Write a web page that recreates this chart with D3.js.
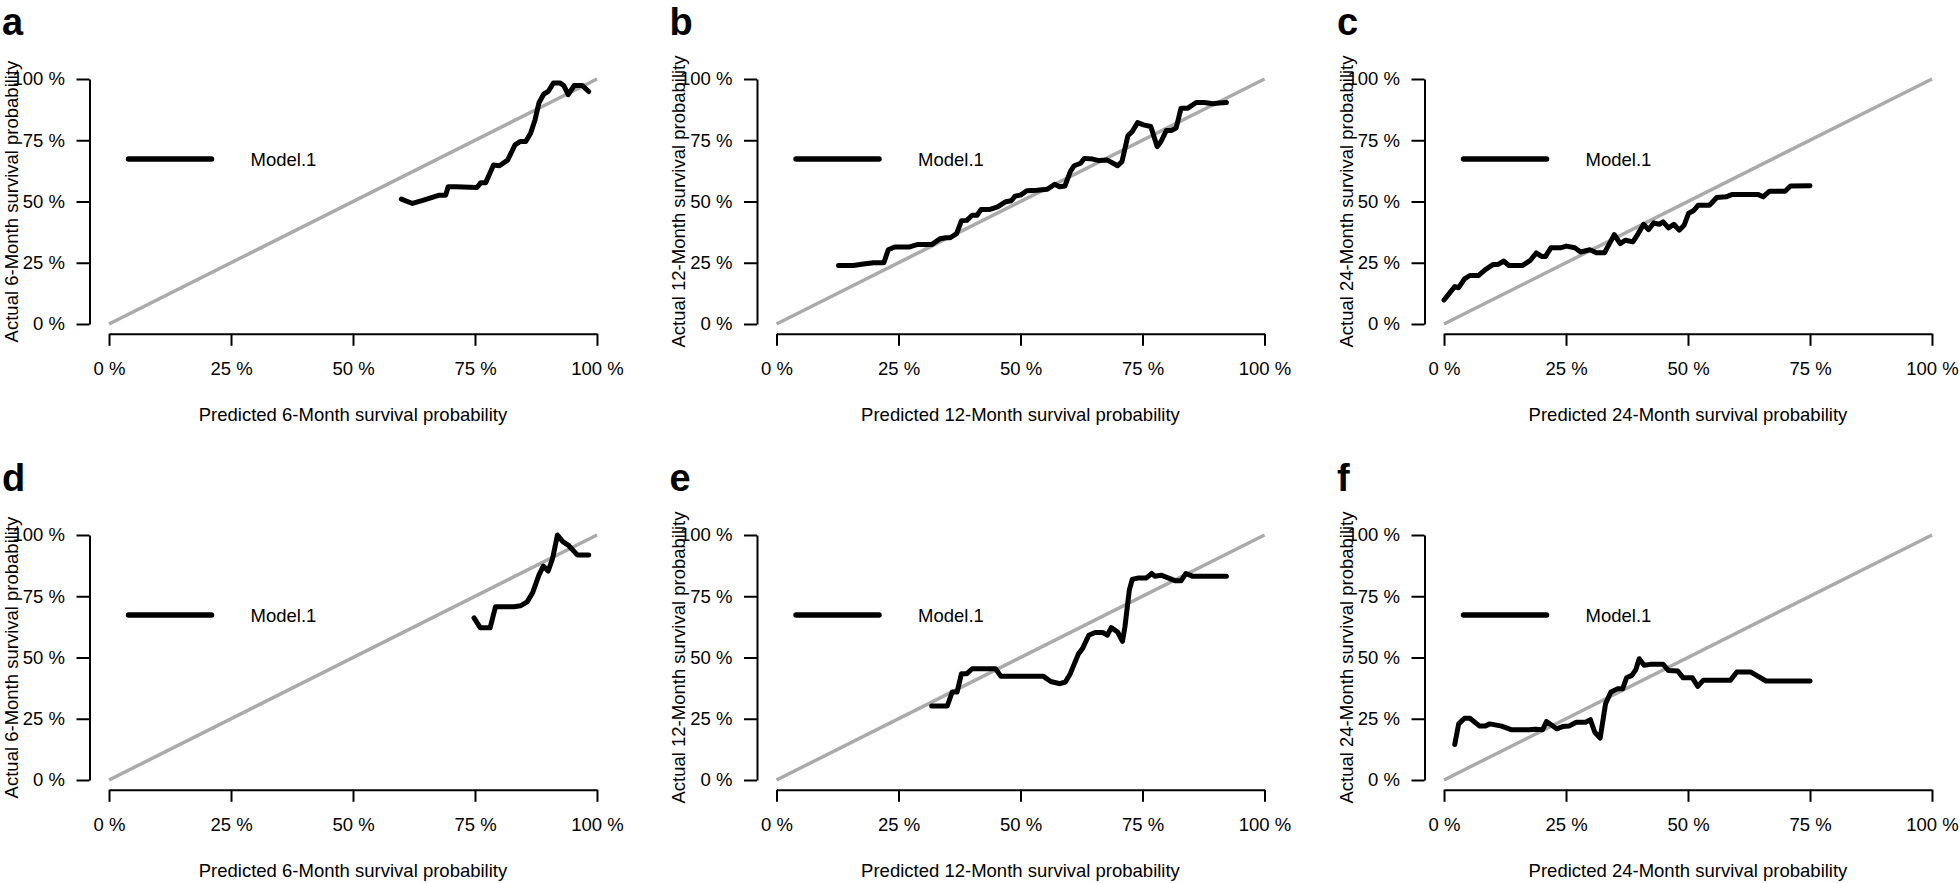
<!DOCTYPE html>
<html><head><meta charset="utf-8">
<script src="https://cdn.jsdelivr.net/npm/d3@7"></script>
<style>body{margin:0;background:#fff} text{font-family:"Liberation Sans",Arial,Helvetica,sans-serif;fill:#000}</style>
</head><body><svg id="chart" width="1960" height="883"></svg>
<script>
// ---------- data ----------
const panelLetters = ["a", "b", "c", "d", "e", "f"];
const horizons = ["6-Month", "12-Month", "24-Month", "6-Month", "12-Month", "24-Month"];
const tickValues = [0, 0.25, 0.5, 0.75, 1];
const tickLabels = ["0 %", "25 %", "50 %", "75 %", "100 %"];
const legendLabel = "Model.1";

const predA = [0.599,0.622,0.643,0.677,0.690,0.695,0.711,0.754,0.762,0.772,0.788,0.800,0.817,0.832,0.843,0.854,0.864,0.873,0.881,0.891,0.900,0.911,0.924,0.932,0.941,0.953,0.970,0.983];
const actA  = [0.510,0.492,0.505,0.526,0.526,0.560,0.560,0.557,0.577,0.577,0.649,0.646,0.669,0.731,0.745,0.745,0.779,0.833,0.902,0.939,0.949,0.984,0.984,0.973,0.936,0.973,0.973,0.949];

const predB = [0.127,0.157,0.182,0.199,0.220,0.229,0.242,0.271,0.288,0.318,0.335,0.347,0.356,0.369,0.379,0.390,0.401,0.411,0.419,0.436,0.453,0.470,0.481,0.489,0.500,0.513,0.534,0.555,0.570,0.580,0.591,0.602,0.610,0.623,0.631,0.648,0.661,0.678,0.699,0.708,0.720,0.729,0.740,0.752,0.767,0.780,0.788,0.799,0.809,0.819,0.829,0.843,0.860,0.877,0.894,0.907,0.922];
const actB  = [0.239,0.239,0.246,0.250,0.250,0.303,0.314,0.314,0.324,0.324,0.348,0.352,0.352,0.369,0.421,0.423,0.444,0.444,0.467,0.467,0.478,0.499,0.503,0.522,0.526,0.544,0.546,0.550,0.570,0.560,0.563,0.622,0.646,0.656,0.676,0.673,0.667,0.669,0.646,0.663,0.768,0.786,0.822,0.813,0.806,0.724,0.745,0.790,0.790,0.800,0.881,0.881,0.904,0.904,0.899,0.902,0.904];

const predC = [0.000,0.010,0.022,0.030,0.042,0.053,0.071,0.084,0.101,0.111,0.122,0.133,0.161,0.177,0.189,0.200,0.208,0.219,0.238,0.251,0.268,0.280,0.299,0.312,0.329,0.337,0.349,0.361,0.372,0.387,0.398,0.409,0.419,0.430,0.441,0.449,0.460,0.471,0.482,0.492,0.501,0.512,0.521,0.544,0.559,0.578,0.591,0.643,0.654,0.667,0.699,0.710,0.750];
const actC  = [0.098,0.123,0.153,0.148,0.184,0.198,0.198,0.221,0.243,0.243,0.257,0.239,0.239,0.260,0.290,0.276,0.276,0.311,0.311,0.318,0.311,0.294,0.303,0.291,0.291,0.321,0.365,0.328,0.342,0.335,0.369,0.407,0.385,0.413,0.407,0.417,0.392,0.407,0.383,0.403,0.451,0.464,0.485,0.485,0.516,0.519,0.529,0.529,0.519,0.542,0.542,0.563,0.564];

const predD = [0.748,0.761,0.781,0.792,0.830,0.843,0.857,0.868,0.881,0.890,0.900,0.909,0.919,0.930,0.941,0.960,0.983];
const actD  = [0.662,0.621,0.621,0.707,0.707,0.711,0.727,0.764,0.836,0.873,0.853,0.904,1.000,0.973,0.959,0.918,0.918];

const predE = [0.318,0.350,0.360,0.370,0.379,0.390,0.401,0.449,0.460,0.547,0.562,0.581,0.592,0.602,0.619,0.627,0.640,0.653,0.669,0.678,0.686,0.699,0.709,0.714,0.723,0.729,0.742,0.758,0.769,0.775,0.788,0.818,0.829,0.839,0.852,0.922];
const actE  = [0.302,0.302,0.359,0.359,0.434,0.434,0.454,0.454,0.423,0.423,0.402,0.393,0.400,0.434,0.516,0.536,0.591,0.602,0.602,0.591,0.622,0.604,0.566,0.625,0.775,0.819,0.825,0.825,0.843,0.832,0.836,0.813,0.813,0.843,0.832,0.832];

const predF = [0.022,0.030,0.042,0.053,0.073,0.084,0.094,0.118,0.139,0.174,0.187,0.202,0.210,0.231,0.243,0.256,0.271,0.290,0.300,0.309,0.320,0.331,0.342,0.355,0.366,0.374,0.385,0.393,0.400,0.410,0.423,0.449,0.460,0.479,0.490,0.509,0.520,0.531,0.587,0.600,0.628,0.660,0.750];
const actF  = [0.145,0.229,0.252,0.252,0.220,0.220,0.229,0.220,0.205,0.205,0.207,0.205,0.239,0.209,0.218,0.220,0.236,0.236,0.246,0.195,0.171,0.311,0.359,0.372,0.372,0.417,0.427,0.450,0.495,0.468,0.472,0.472,0.447,0.445,0.417,0.417,0.382,0.407,0.407,0.441,0.441,0.404,0.404];

const predicted = [predA, predB, predC, predD, predE, predF];
const actual = [actA, actB, actC, actD, actE, actF];

// ---------- drawing ----------
const svg = d3.select("#chart");
svg.append("rect").attr("width", 1960).attr("height", 883).attr("fill", "#fff");

const colStep = 667.5, rowStep = 456;
const FONT = 18.5;

panelLetters.forEach((letter, i) => {
  const ox = (i % 3) * colStep, oy = Math.floor(i / 3) * rowStep;
  const g = svg.append("g");
  const x = d3.scaleLinear().domain([-0.04, 1.04]).range([89.5 + ox, 616.5 + ox]);
  const y = d3.scaleLinear().domain([-0.04, 1.04]).range([333.8 + oy, 69.2 + oy]);
  const xa = d3.scaleLinear().domain([0, 1]).range([x(0), x(1)]);
  const ya = d3.scaleLinear().domain([0, 1]).range([y(0), y(1)]);

  // axes
  const xAxis = d3.axisBottom(xa).tickValues(tickValues).tickFormat((d, k) => tickLabels[k])
    .tickSize(12).tickSizeOuter(0).tickPadding(16);
  const yAxis = d3.axisLeft(ya).tickValues(tickValues).tickFormat((d, k) => tickLabels[k])
    .tickSize(13).tickSizeOuter(0).tickPadding(11.5);
  const gx = g.append("g").attr("transform", `translate(0,${y(-0.04)})`).call(xAxis);
  const gy = g.append("g").attr("transform", `translate(${x(-0.04)},0)`).call(yAxis);
  [gx, gy].forEach(a => {
    a.selectAll("path,line").attr("stroke", "#000").attr("stroke-width", 2);
    a.selectAll("text").attr("font-size", FONT).attr("fill", "#000")
      .style("font-family", '"Liberation Sans",Arial,sans-serif');
  });

  // diagonal reference
  g.append("line")
    .attr("x1", x(0)).attr("y1", y(0)).attr("x2", x(1)).attr("y2", y(1))
    .attr("stroke", "#aaaaaa").attr("stroke-width", 3.5);

  // calibration curve
  const pts = predicted[i].map((p, k) => [p, actual[i][k]]);
  g.append("path").datum(pts)
    .attr("d", d3.line().x(d => x(d[0])).y(d => y(d[1])))
    .attr("fill", "none").attr("stroke", "#000").attr("stroke-width", 5)
    .attr("stroke-linejoin", "round").attr("stroke-linecap", "round");

  // legend
  g.append("line")
    .attr("x1", x(0.04)).attr("x2", x(0.21)).attr("y1", y(0.673)).attr("y2", y(0.673))
    .attr("stroke", "#000").attr("stroke-width", 5.5).attr("stroke-linecap", "round");
  g.append("text").attr("x", x(0.29)).attr("y", y(0.673)).attr("dy", "0.35em")
    .attr("font-size", FONT).text(legendLabel);

  // axis titles
  g.append("text").attr("x", (x(-0.04) + x(1.04)) / 2).attr("y", 421 + oy)
    .attr("text-anchor", "middle").attr("font-size", FONT)
    .text(`Predicted ${horizons[i]} survival probability`);
  g.append("text")
    .attr("transform", `translate(${17.5 + ox},${(y(-0.04) + y(1.04)) / 2}) rotate(-90)`)
    .attr("text-anchor", "middle").attr("font-size", FONT)
    .text(`Actual ${horizons[i]} survival probability`);

  // panel letter
  g.append("text").attr("x", 2 + ox).attr("y", 35 + oy)
    .attr("font-size", 38).attr("font-weight", "bold").text(letter);
});
</script></body></html>
